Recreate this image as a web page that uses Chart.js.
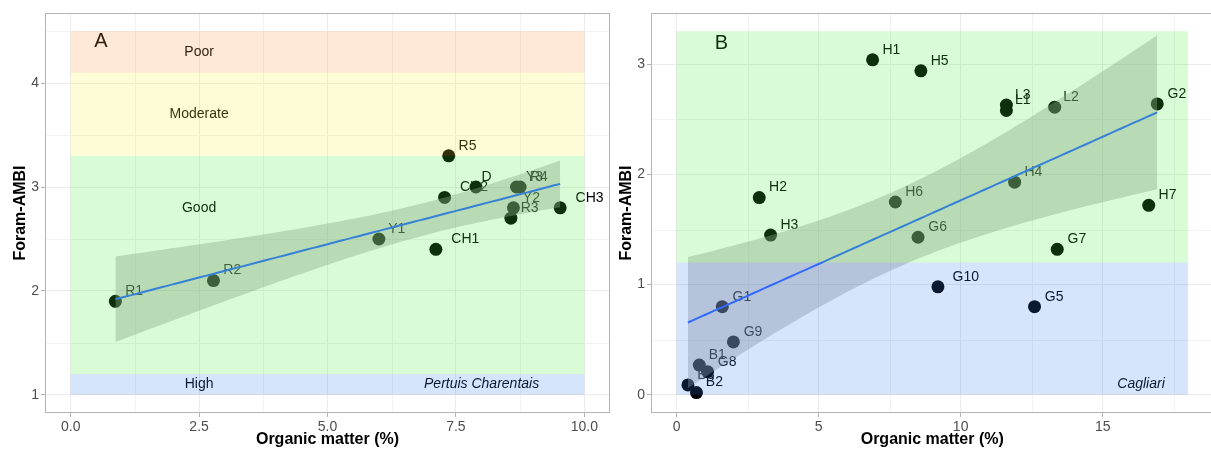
<!DOCTYPE html>
<html>
<head>
<meta charset="utf-8">
<script src="https://cdn.jsdelivr.net/npm/chart.js@4.4.1/dist/chart.umd.min.js"></script>
<style>
html,body{margin:0;padding:0;background:#fff;overflow:hidden;}
#wrap{position:relative;width:1211px;height:450px;overflow:hidden;background:#fff;}
canvas{position:absolute;top:0;}
</style>
</head>
<body>
<div id="wrap">
<canvas id="cA" width="620" height="450" style="left:0px"></canvas>
<canvas id="cB" width="610" height="450" style="left:610px"></canvas>
</div>
<script>
// ---------- DATA ----------
// Panel A : Pertuis Charentais
const A_sites = ['R1','R2','Y1','CH1','CH2','R5','D','Y3','R4','Y2','R3','CH3'];
const A_om    = [0.87,2.78,6.00,7.11,7.28,7.36,7.89,8.68,8.75,8.62,8.57,9.53];
const A_fambi = [1.90,2.10,2.50,2.40,2.90,3.30,3.00,3.00,3.00,2.80,2.70,2.80];
const A_xTicks = [0,2.5,5,7.5,10];
const A_yTicks = [1,2,3,4];
const A_bandNames = ['Poor','Moderate','Good','High'];
const A_bandLow   = [4.1,3.3,1.2,1.0];
const A_bandHigh  = [4.5,4.1,3.3,1.2];

// Panel B : Cagliari
const B_sites = ['H1','H2','H3','H4','H5','H6','H7','L1','L2','L3','G1','G2','G5','G6','G7','G8','G9','G10','B1','B2','B3'];
const B_om    = [6.90,2.91,3.31,11.90,8.60,7.70,16.62,11.61,13.31,11.61,1.61,16.92,12.60,8.50,13.40,1.09,2.00,9.20,0.80,0.70,0.40];
const B_fambi = [3.04,1.79,1.45,1.93,2.94,1.75,1.72,2.58,2.61,2.63,0.80,2.64,0.80,1.43,1.32,0.21,0.48,0.98,0.27,0.02,0.09];
const B_xTicks = [0,5,10,15];
const B_yTicks = [0,1,2,3];
const B_bandLow  = [1.2,0];
const B_bandHigh = [3.3,1.2];

// ---------- STATS (lm fit + 95% CI, as geom_smooth(method="lm")) ----------
function tQuant(df){
  const z=1.959964, z3=z*z*z, z5=z3*z*z, z7=z5*z*z, z9=z7*z*z;
  const g1=(z3+z)/4, g2=(5*z5+16*z3+3*z)/96, g3=(3*z7+19*z5+17*z3-15*z)/384,
        g4=(79*z9+776*z7+1482*z5-1920*z3-945*z)/92160;
  return z+g1/df+g2/(df*df)+g3/Math.pow(df,3)+g4/Math.pow(df,4);
}
function lmFit(xs,ys,nGrid){
  const n=xs.length;
  const mx=xs.reduce((a,b)=>a+b,0)/n, my=ys.reduce((a,b)=>a+b,0)/n;
  let sxx=0,sxy=0; for(let i=0;i<n;i++){sxx+=(xs[i]-mx)**2; sxy+=(xs[i]-mx)*(ys[i]-my);}
  const b=sxy/sxx, a=my-b*mx;
  let sse=0; for(let i=0;i<n;i++){sse+=(ys[i]-a-b*xs[i])**2;}
  const s=Math.sqrt(sse/(n-2)), t=tQuant(n-2);
  const lo=Math.min(...xs), hi=Math.max(...xs);
  const fit=[],low=[],up=[];
  for(let k=0;k<nGrid;k++){
    const x=lo+(hi-lo)*k/(nGrid-1);
    const yh=a+b*x, se=s*Math.sqrt(1/n+(x-mx)**2/sxx);
    fit.push({x,y:yh}); low.push({x,y:yh-t*se}); up.push({x,y:yh+t*se});
  }
  return {fit,low,up};
}

// ---------- DRAWING ----------
const FONT='"Liberation Sans", Arial, sans-serif';

function makePanel(cfg){
  const pts=cfg.xs.map((x,i)=>({x,y:cfg.ys[i]}));
  const f=lmFit(cfg.xs,cfg.ys,80);
  const plugin={
    id:'panel'+cfg.id,
    beforeDatasetsDraw(chart){
      const {ctx,chartArea:ca,scales:{x,y}}=chart;
      ctx.save();
      // minor grid
      ctx.strokeStyle='#f2f2f2'; ctx.lineWidth=1;
      cfg.xMinor.forEach(v=>{const p=Math.round(x.getPixelForValue(v))+0.5;ctx.beginPath();ctx.moveTo(p,ca.top);ctx.lineTo(p,ca.bottom);ctx.stroke();});
      cfg.yMinor.forEach(v=>{const p=Math.round(y.getPixelForValue(v))+0.5;ctx.beginPath();ctx.moveTo(ca.left,p);ctx.lineTo(ca.right,p);ctx.stroke();});
      // site labels (black, later tinted by status bands)
      ctx.fillStyle='#000'; ctx.textBaseline='middle'; ctx.textAlign='left';
      ctx.font='14px '+FONT;
      cfg.labels.forEach((s,i)=>{
        const px=x.getPixelForValue(cfg.xs[i]), py=y.getPixelForValue(cfg.ys[i]);
        const w=ctx.measureText(s).width;
        ctx.fillText(s,px+0.55*w,py-10);
      });
      // band names
      ctx.textAlign='center';
      (cfg.bandText||[]).forEach(bt=>{
        ctx.font=(bt.italic?'italic ':'')+'14px '+FONT;
        ctx.fillText(bt.text,x.getPixelForValue(bt.x),y.getPixelForValue(bt.y));
      });
      // panel letter
      ctx.font='20px '+FONT;
      ctx.fillText(cfg.letter.text,x.getPixelForValue(cfg.letter.x),y.getPixelForValue(cfg.letter.y));
      ctx.restore();
    },
    afterDatasetsDraw(chart){
      const {ctx,scales:{x,y}}=chart;
      ctx.save();
      cfg.bands.forEach(b=>{
        const x0=x.getPixelForValue(b.x0),x1=x.getPixelForValue(b.x1);
        const y0=y.getPixelForValue(b.hi),y1=y.getPixelForValue(b.lo);
        ctx.fillStyle=b.color; ctx.fillRect(x0,y0,x1-x0,y1-y0);
      });
      ctx.restore();
    },
    afterDraw(chart){
      const {ctx,chartArea:ca}=chart;
      ctx.save();
      ctx.strokeStyle='#b3b3b3'; ctx.lineWidth=1;
      ctx.strokeRect(Math.round(ca.left)+0.5,Math.round(ca.top)+0.5,Math.round(ca.right-ca.left)-1,Math.round(ca.bottom-ca.top)-1);
      ctx.fillStyle='#000'; ctx.font='bold 16px '+FONT; ctx.textAlign='center'; ctx.textBaseline='middle';
      ctx.fillText('Organic matter (%)',(ca.left+ca.right)/2,440);
      ctx.translate(cfg.yTitleX,(ca.top+ca.bottom)/2); ctx.rotate(-Math.PI/2);
      ctx.fillText('Foram-AMBI',0,0);
      ctx.restore();
    }
  };
  const tickFont={family:FONT,size:14};
  return new Chart(document.getElementById(cfg.canvas),{
    type:'line',
    data:{datasets:[
      {data:pts,showLine:false,pointRadius:6.5,pointHoverRadius:6.5,pointBorderWidth:0,pointBackgroundColor:'#000',order:3},
      {data:f.low,pointRadius:0,borderColor:'rgba(0,0,0,0)',borderWidth:0,fill:false,order:2},
      {data:f.up,pointRadius:0,borderColor:'rgba(0,0,0,0)',borderWidth:0,fill:'-1',backgroundColor:'rgba(153,153,153,0.4)',order:2},
      {data:f.fit,pointRadius:0,borderColor:'#3366FF',borderWidth:2,fill:false,order:1}
    ]},
    options:{
      responsive:false,animation:false,devicePixelRatio:1,
      layout:{padding:cfg.padding},
      plugins:{legend:{display:false},tooltip:{enabled:false}},
      scales:{
        x:{type:'linear',min:cfg.xMin,max:cfg.xMax,
          afterBuildTicks:s=>{s.ticks=cfg.xTicks.map(v=>({value:v}));},
          afterFit:s=>{s.height=37;},
          ticks:{font:tickFont,color:'#4d4d4d',padding:2,maxRotation:0,autoSkip:false,callback:cfg.xFmt},
          grid:{color:'#ebebeb',tickColor:'#b3b3b3',tickLength:4,lineWidth:1},
          border:{display:false}},
        y:{type:'linear',min:cfg.yMin,max:cfg.yMax,
          afterBuildTicks:s=>{s.ticks=cfg.yTicks.map(v=>({value:v}));},
          afterFit:s=>{s.width=cfg.yWidth;},
          ticks:{font:tickFont,color:'#4d4d4d',padding:2,callback:v=>String(v)},
          grid:{color:'#ebebeb',tickColor:'#b3b3b3',tickLength:4,lineWidth:1},
          border:{display:false}}
      }
    },
    plugins:[plugin]
  });
}

const TINT={poor:'rgba(245,145,50,0.2)',mod:'rgba(250,240,55,0.2)',good:'rgba(65,240,50,0.2)',high:'rgba(50,125,235,0.2)'};
const A_tints=[TINT.poor,TINT.mod,TINT.good,TINT.high];
const B_tints=[TINT.good,TINT.high];

makePanel({
  id:'A',canvas:'cA',xs:A_om,ys:A_fambi,labels:A_sites,
  xMin:-0.5,xMax:10.5,yMin:0.825,yMax:4.675,
  xTicks:A_xTicks,yTicks:A_yTicks,
  xMinor:[1.25,3.75,6.25,8.75],yMinor:[1.5,2.5,3.5,4.5],
  xFmt:v=>Number(v).toFixed(1),
  padding:{left:0,right:10,top:13,bottom:0},yWidth:45,yTitleX:21,
  bands:A_bandNames.map((n,i)=>({x0:0,x1:10,lo:A_bandLow[i],hi:A_bandHigh[i],color:A_tints[i]})),
  bandText:A_bandNames.map((n,i)=>({text:n,x:2.5,y:(A_bandLow[i]+A_bandHigh[i])/2+(n==='Good'?0.55:0)}))
    .concat([{text:'Pertuis Charentais',x:8.0,y:1.1,italic:true}]),
  letter:{text:'A',x:0.59,y:4.4}
});
makePanel({
  id:'B',canvas:'cB',xs:B_om,ys:B_fambi,labels:B_sites,
  xMin:-0.9,xMax:18.9,yMin:-0.165,yMax:3.465,
  xTicks:B_xTicks,yTicks:B_yTicks,
  xMinor:[2.5,7.5,12.5,17.5],yMinor:[0.5,1.5,2.5],
  xFmt:v=>String(v),
  padding:{left:0,right:4,top:13,bottom:0},yWidth:41,yTitleX:16.5,
  bands:B_bandLow.map((l,i)=>({x0:0,x1:18,lo:l,hi:B_bandHigh[i],color:B_tints[i]})),
  bandText:[{text:'Cagliari',x:16.35,y:0.1,italic:true}],
  letter:{text:'B',x:1.58,y:3.19}
});
</script>
</body>
</html>
